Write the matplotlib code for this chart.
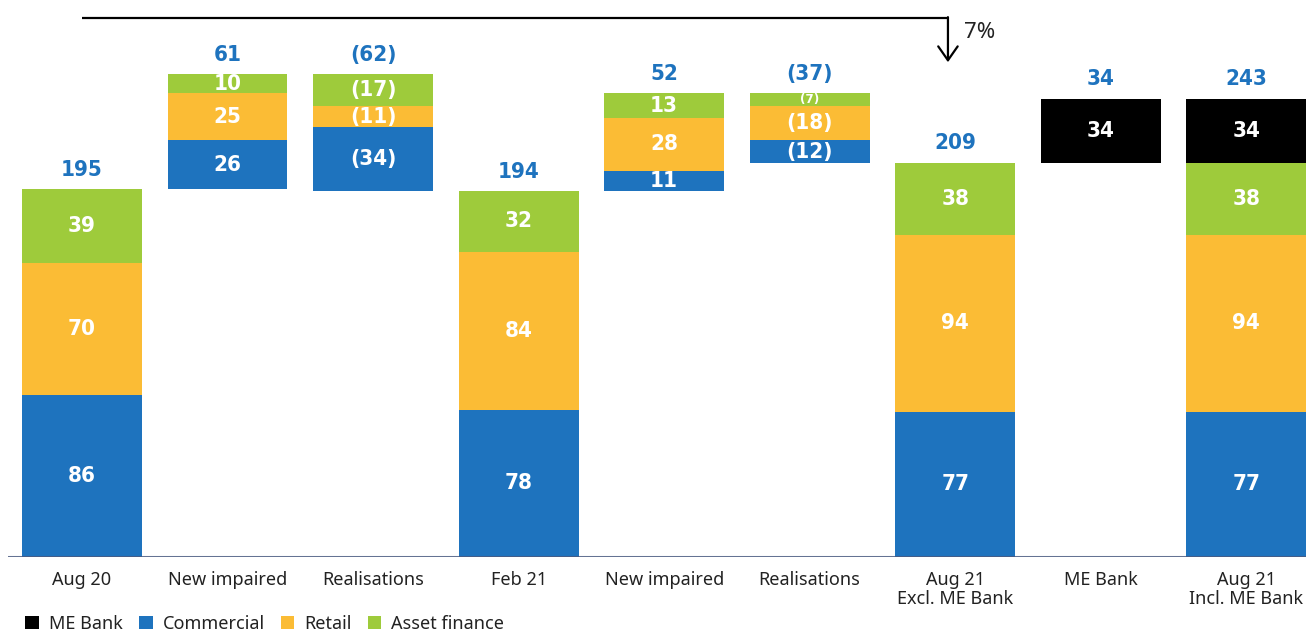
import matplotlib
matplotlib.use("Agg")
import matplotlib.pyplot as plt
from matplotlib.patches import Patch

# ---------------- data ----------------
categories = ["Aug 20", "New impaired", "Realisations", "Feb 21", "New impaired",
              "Realisations", "Aug 21\nExcl. ME Bank", "ME Bank", "Aug 21\nIncl. ME Bank"]
bar_kind = ["total", "delta", "delta", "total", "delta", "delta", "total", "delta", "total"]
commercial = [86, 26, -34, 78, 11, -12, 77, 0, 77]
retail = [70, 25, -11, 84, 28, -18, 94, 0, 94]
asset_finance = [39, 10, -17, 32, 13, -7, 38, 0, 38]
me_bank = [0, 0, 0, 0, 0, 0, 0, 34, 34]
totals = [195, 61, -62, 194, 52, -37, 209, 34, 243]
change_label = "7%"

series_names = ["Commercial", "Retail", "Asset finance", "ME Bank"]
series_values = [commercial, retail, asset_finance, me_bank]
colors = {"Commercial": "#1E73BE", "Retail": "#FBBC35",
          "Asset finance": "#9ECB3B", "ME Bank": "#000000"}
label_blue = "#1E73BE"

# ---------------- figure ----------------
W, H = 1306, 634
fig = plt.figure(figsize=(W / 100, H / 100), dpi=100)
ax = fig.add_axes([8 / W, (H - 557) / H, (W - 8) / W, 557 / H])
ax.set_xlim(-0.508, 8.41)
ax.set_ylim(0, 295.5)

num_font = dict(family="DejaVu Sans", fontstretch="condensed", fontweight="bold")
txt_font = dict(family=["Noto Sans", "DejaVu Sans"])

level = 0
bw = 0.824
for i, cat in enumerate(categories):
    if bar_kind[i] == "total":
        base = 0
        level = totals[i]
    else:
        if totals[i] >= 0:
            base = level
        else:
            base = level + totals[i]
        level = level + totals[i]
    bottom = base
    for name, vals in zip(series_names, series_values):
        v = vals[i]
        if v == 0:
            continue
        h = abs(v)
        ax.bar(i, h, bottom=bottom, width=bw, color=colors[name], linewidth=0, zorder=2)
        lab = str(v) if v > 0 else f"({-v})"
        fs = 16 if h >= 9 else 9.5
        ax.text(i, bottom + h / 2, lab, ha="center", va="center", color="white",
                fontsize=fs, zorder=3, **num_font)
        bottom += h
    top = bottom
    tl = str(totals[i]) if totals[i] >= 0 else f"({-totals[i]})"
    ax.annotate(tl, (i, top), xytext=(0, 7), textcoords="offset points",
                ha="center", va="bottom", color=label_blue, fontsize=16, **num_font)

# baseline
ax.axhline(0, color="#4a5a80", lw=2.2, alpha=0.85, zorder=4)

# change arrow
arrow_y = 286
arrow_x = 5.95
ax.plot([0, arrow_x], [arrow_y, arrow_y], color="black", lw=1.6, solid_capstyle="butt",
        clip_on=False, zorder=5)
ax.annotate("", xy=(arrow_x, 262.5), xytext=(arrow_x, arrow_y + 0.4),
            arrowprops=dict(arrowstyle="->,head_length=0.5,head_width=0.35",
                            color="black", lw=1.6, mutation_scale=20,
                            shrinkA=0, shrinkB=0),
            annotation_clip=False, zorder=5)
ax.text(arrow_x + 0.11, 278.5, change_label, ha="left", va="center", fontsize=16,
        color="#222222", **txt_font)

# axes styling
for s in ax.spines.values():
    s.set_visible(False)
ax.set_yticks([])
ax.set_xticks(range(len(categories)))
ax.set_xticklabels(categories, fontsize=13, color="#222222", linespacing=1.1, **txt_font)
ax.tick_params(axis="x", length=0, pad=10)

# legend
legend_order = ["ME Bank", "Commercial", "Retail", "Asset finance"]
handles = [Patch(facecolor=colors[n], edgecolor="none") for n in legend_order]
leg = fig.legend(handles, legend_order, loc="lower left", bbox_to_anchor=(0.007, -0.024),
                 ncol=4, frameon=False, handlelength=0.75, handleheight=0.75,
                 handletextpad=0.55, columnspacing=0.9,
                 prop=dict(family=["Noto Sans", "DejaVu Sans"], size=13))
for t in leg.get_texts():
    t.set_color("#222222")

fig.savefig("out.png", dpi=100)
